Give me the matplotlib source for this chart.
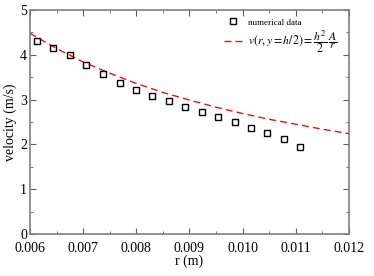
import numpy as np
from matplotlib import pyplot as plt
from matplotlib.ticker import MultipleLocator, FormatStrFormatter

# numerical data
r_num = [0.00614, 0.00644, 0.00675, 0.00706, 0.00738, 0.00769, 0.00799, 0.00830,
         0.00861, 0.00892, 0.00923, 0.00954, 0.00985, 0.01016, 0.01046, 0.01078, 0.01108]
v_num = [4.31, 4.16, 3.99, 3.78, 3.56, 3.38, 3.22, 3.08,
         2.96, 2.84, 2.73, 2.61, 2.50, 2.37, 2.26, 2.12, 1.94]

# analytical curve, values
r_ana = [0.0060, 0.0065, 0.0070, 0.0075, 0.0080, 0.0085, 0.0090,
         0.0095, 0.0100, 0.0105, 0.0110, 0.0115, 0.0120]
v_ana = [4.48, 4.14, 3.84, 3.59, 3.36, 3.16, 2.99,
         2.83, 2.69, 2.56, 2.45, 2.34, 2.24]

plt.rcParams['font.family'] = ['Liberation Serif', 'DejaVu Serif']
plt.rcParams['mathtext.fontset'] = 'stix'

fig = plt.figure(figsize=(3.74, 2.76), dpi=100)
ax = fig.add_axes([0.080, 0.152, 0.853, 0.812])

ax.plot(r_num, v_num, 's', mfc='none', mec='black', ms=4.5, mew=1.0,
        label='numerical data', zorder=3)
ax.plot(r_ana, v_ana, '--', color='#ee1111', lw=1.0, dashes=(5, 3),
        label=r'$v(r,y=h/2)=\dfrac{h^2}{2}\,\dfrac{A}{r}$')

ax.set_xlim(0.006, 0.012)
ax.set_ylim(0, 5)
ax.xaxis.set_major_locator(MultipleLocator(0.001))
ax.xaxis.set_minor_locator(MultipleLocator(0.0005))
ax.yaxis.set_major_locator(MultipleLocator(1))
ax.yaxis.set_minor_locator(MultipleLocator(0.5))
ax.xaxis.set_major_formatter(FormatStrFormatter('%.3f'))

for s in ax.spines.values():
    s.set_color('#808080')
    s.set_linewidth(1.2)
ax.tick_params(which='both', direction='in', top=True, right=True,
               color='#606060', labelsize=10, pad=2)
ax.tick_params(axis='x', pad=5.5)
ax.tick_params(which='major', length=4)
ax.tick_params(which='minor', length=2.5)

ax.set_xlabel('r (m)', fontsize=10, labelpad=0)
ax.set_ylabel('velocity (m/s)', fontsize=10, labelpad=2)

leg = ax.legend(loc='upper right', frameon=False, fontsize=8.5, handlelength=1.5,
                handletextpad=0.5, labelspacing=0.1, borderaxespad=0.2,
                bbox_to_anchor=(0.985, 1.0))
leg.get_texts()[0].set_fontsize(6.5)

plt.savefig('out.png', dpi=100)
